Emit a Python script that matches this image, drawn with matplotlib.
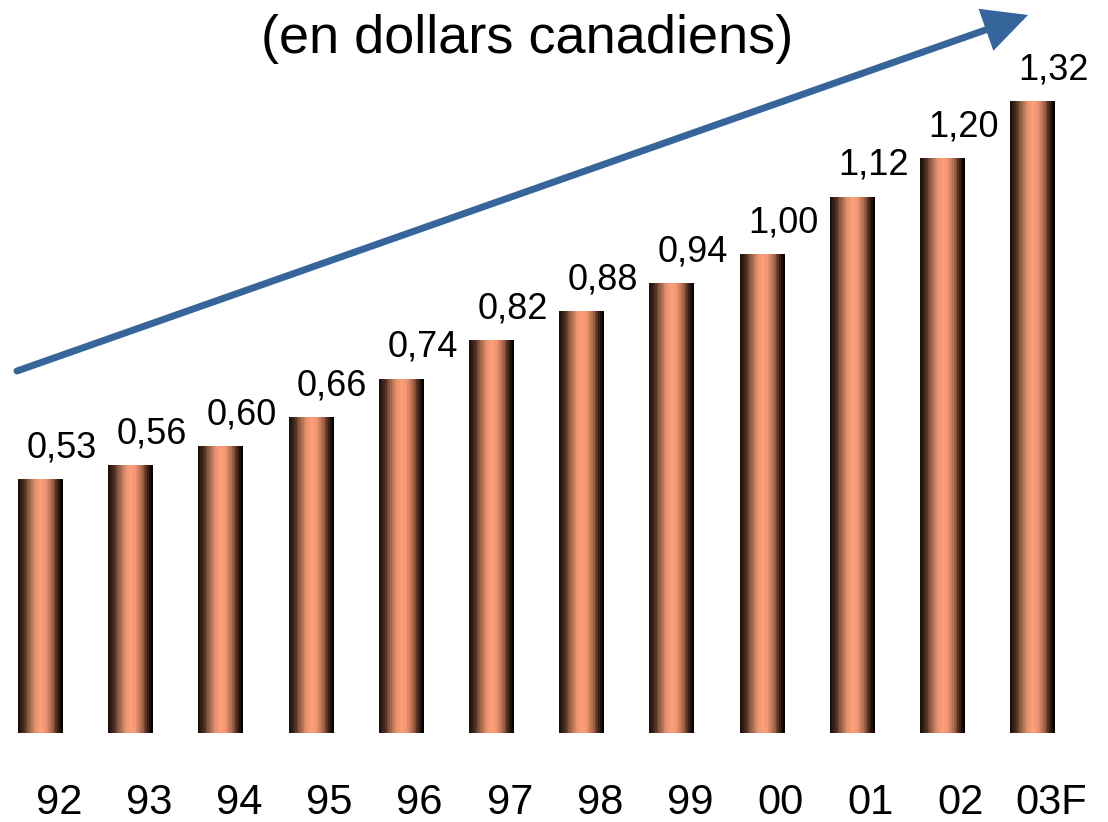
import numpy as np
import matplotlib
matplotlib.use("Agg")
import matplotlib.pyplot as plt
from matplotlib.colors import LinearSegmentedColormap

# ---- data ----
years = ["92", "93", "94", "95", "96", "97", "98", "99", "00", "01", "02", "03F"]
dividends = [0.53, 0.56, 0.60, 0.66, 0.74, 0.82, 0.88, 0.94, 1.00, 1.12, 1.20, 1.32]
value_labels = ["0,53", "0,56", "0,60", "0,66", "0,74", "0,82", "0,88", "0,94",
                "1,00", "1,12", "1,20", "1,32"]
subtitle = "(en dollars canadiens)"

plt.rcParams['font.family'] = ['Liberation Sans', 'DejaVu Sans']

W, H, DPI = 1108, 822, 100
fig = plt.figure(figsize=(W / DPI, H / DPI), dpi=DPI)
ax = fig.add_axes([0, 0, 1, 1])
ax.set_axis_off()

# pixel geometry -> data limits
px_per_cat = 90.2
px_first = 40.0
px_per_unit = 479.0
base_from_bottom = 89.0
xlim = (-px_first / px_per_cat, (W - px_first) / px_per_cat)
ylim = (-base_from_bottom / px_per_unit, (H - base_from_bottom) / px_per_unit)

stops = [
    (0.00, (30, 18, 12)),
    (0.10, (72, 43, 29)),
    (0.24, (150, 95, 70)),
    (0.38, (232, 146, 110)),
    (0.50, (255, 160, 122)),
    (0.62, (242, 152, 116)),
    (0.76, (168, 104, 77)),
    (0.89, (72, 43, 29)),
    (1.00, (0, 0, 0)),
]
cmap = LinearSegmentedColormap.from_list(
    "copper_bar", [(p, tuple(c / 255 for c in col)) for p, col in stops], N=24)

x = np.arange(len(years))
bars = ax.bar(x, dividends, width=0.49, color='none', edgecolor='none')
grad = np.linspace(0, 1, 256).reshape(1, -1)
for b in bars:
    x0, y0 = b.get_x(), b.get_y()
    w, h = b.get_width(), b.get_height()
    im = ax.imshow(grad, cmap=cmap, aspect='auto',
                   extent=(x0, x0 + w, y0, y0 + h), interpolation='nearest')
    im.set_clip_path(b)

# value labels
for xi, v, lab in zip(x, dividends, value_labels):
    ax.text(xi + 0.24, v + 0.045, lab, ha='center', va='baseline',
            fontsize=26, color='black')

# category labels
for xi, lab in zip(x, years):
    ax.text(xi + 0.21, -0.170, lab, ha='center', va='baseline',
            fontsize=30, color='black')

ax.set_xlim(*xlim)
ax.set_ylim(*ylim)

# subtitle (first title line is cropped off in the reference)
fig.text(527 / W, 1 - 53 / H, subtitle, ha='center', va='baseline',
         fontsize=39, color='black')

# trend arrow
ax.annotate('', xy=(1028, H - 15), xytext=(17, H - 371),
            xycoords='figure pixels', textcoords='figure pixels',
            arrowprops=dict(arrowstyle='-|>,head_length=24,head_width=12',
                            mutation_scale=1, lw=5, color='#36659c',
                            shrinkA=0, shrinkB=0, joinstyle='miter'))

fig.savefig("out.png", dpi=DPI, facecolor='white')
